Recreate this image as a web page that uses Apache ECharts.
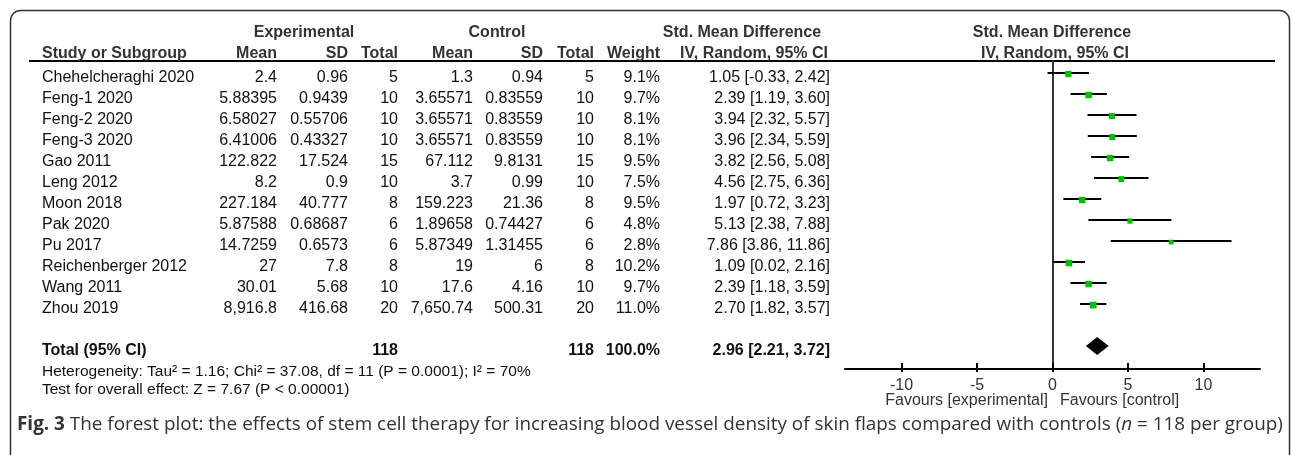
<!DOCTYPE html>
<html>
<head>
<meta charset="utf-8">
<script src="https://cdn.jsdelivr.net/npm/echarts@6/dist/echarts.min.js"></script>
<style>
html, body { margin: 0; padding: 0; background: #fff; }
#chart { width: 1292px; height: 455px; }
</style>
</head>
<body>
<div id="chart"></div>
<script>
// study rows
const studies = ['Chehelcheraghi 2020', 'Feng-1 2020', 'Feng-2 2020', 'Feng-3 2020', 'Gao 2011', 'Leng 2012',
  'Moon 2018', 'Pak 2020', 'Pu 2017', 'Reichenberger 2012', 'Wang 2011', 'Zhou 2019'];
const expMean = [2.4, 5.88395, 6.58027, 6.41006, 122.822, 8.2, 227.184, 5.87588, 14.7259, 27, 30.01, 8916.8];
const expSD = [0.96, 0.9439, 0.55706, 0.43327, 17.524, 0.9, 40.777, 0.68687, 0.6573, 7.8, 5.68, 416.68];
const expTotal = [5, 10, 10, 10, 15, 10, 8, 6, 6, 8, 10, 20];
const ctlMean = [1.3, 3.65571, 3.65571, 3.65571, 67.112, 3.7, 159.223, 1.89658, 5.87349, 19, 17.6, 7650.74];
const ctlSD = [0.94, 0.83559, 0.83559, 0.83559, 9.8131, 0.99, 21.36, 0.74427, 1.31455, 6, 4.16, 500.31];
const ctlTotal = [5, 10, 10, 10, 15, 10, 8, 6, 6, 8, 10, 20];
const weight = [9.1, 9.7, 8.1, 8.1, 9.5, 7.5, 9.5, 4.8, 2.8, 10.2, 9.7, 11.0];
const smd = [1.05, 2.39, 3.94, 3.96, 3.82, 4.56, 1.97, 5.13, 7.86, 1.09, 2.39, 2.70];
const ciLow = [-0.33, 1.19, 2.32, 2.34, 2.56, 2.75, 0.72, 2.38, 3.86, 0.02, 1.18, 1.82];
const ciHigh = [2.42, 3.60, 5.57, 5.59, 5.08, 6.36, 3.23, 7.88, 11.86, 2.16, 3.59, 3.57];

// pooled row
const totalRow = 13;
const totalN = [118, 118];
const totalWeight = 100.0;
const totalEffect = [2.96, 2.21, 3.72];

const xTicks = [-10, -5, 0, 5, 10];

const fmt = v => v.toLocaleString('en-US', { maximumFractionDigits: 6 });
const ciText = (m, l, h) => m.toFixed(2) + ' [' + l.toFixed(2) + ', ' + h.toFixed(2) + ']';

const FONT = '"Liberation Sans", Arial, sans-serif';
const CAP_FONT = '"Open Sans", sans-serif';
const bodyFont = '16px ' + FONT;
const boldFont = 'bold 16px ' + FONT;

// right edges of table columns
const cols = { study: 42, expMean: 277, expSD: 348, expTotal: 398, ctlMean: 473, ctlSD: 543, ctlTotal: 594, weight: 660, ci: 830 };

function cell(text, x, y, font, align) {
  return {
    type: 'text',
    style: { text: String(text), x: x, y: y, font: font, fill: '#111', textAlign: align || 'right', textVerticalAlign: 'middle' }
  };
}

function hText(text, x, y, align, font, fill) {
  return {
    type: 'text', silent: true,
    style: { text: text, x: x, y: y, font: font || boldFont, fill: fill || '#333', textAlign: align || 'center', textVerticalAlign: 'middle' }
  };
}

const chart = echarts.init(document.getElementById('chart'), null, { renderer: 'canvas' });

const option = {
  animation: false,
  backgroundColor: '#fff',
  grid: [
    { left: 845, top: 61, width: 415, height: 308 },
    { left: 0, top: 61, width: 1292, height: 308 }
  ],
  xAxis: [
    {
      gridIndex: 0, type: 'value', min: -13.75, max: 13.75,
      axisLine: { onZero: false, lineStyle: { color: '#000', width: 2 } },
      axisTick: { inside: true, length: 6, customValues: xTicks, lineStyle: { color: '#000', width: 2 } },
      axisLabel: { customValues: xTicks, fontSize: 16, color: '#333', margin: 9, fontFamily: FONT },
      splitLine: { show: false }
    },
    { gridIndex: 1, type: 'value', min: 0, max: 1292, show: false },
    {
      // short tick stubs below the axis line
      gridIndex: 0, type: 'value', min: -13.75, max: 13.75, position: 'bottom',
      axisLine: { show: false, onZero: false },
      axisTick: { inside: false, length: 3, customValues: xTicks, lineStyle: { color: '#000', width: 2 } },
      axisLabel: { show: false },
      splitLine: { show: false }
    }
  ],
  yAxis: [
    {
      gridIndex: 0, type: 'value', inverse: true, min: -12 / 21, max: 296 / 21,
      axisLine: { show: true, onZero: true, lineStyle: { color: '#333', width: 2 } },
      axisTick: { show: false }, axisLabel: { show: false }, splitLine: { show: false }
    },
    { gridIndex: 1, type: 'value', inverse: true, min: -17 / 21, max: 291 / 21, show: false }
  ],
  series: [
    {
      // confidence intervals
      type: 'custom', xAxisIndex: 0, yAxisIndex: 0,
      data: studies.map((s, i) => [i, ciLow[i], ciHigh[i]]),
      encode: { x: [1, 2], y: 0 },
      renderItem(params, api) {
        const a = api.coord([api.value(1), api.value(0)]);
        const b = api.coord([api.value(2), api.value(0)]);
        return { type: 'line', shape: { x1: a[0], y1: a[1], x2: b[0], y2: b[1] }, style: { stroke: '#000', lineWidth: 2 } };
      },
      z: 2
    },
    {
      type: 'scatter', xAxisIndex: 0, yAxisIndex: 0,
      symbol: 'rect',
      data: studies.map((s, i) => [smd[i], i + 0.05, weight[i]]),
      symbolSize: d => 4 + d[2] * 0.25,
      itemStyle: { color: '#00c000', opacity: 1 },
      z: 3
    },
    {
      // pooled diamond
      type: 'custom', xAxisIndex: 0, yAxisIndex: 0,
      data: [[totalRow, totalEffect[0], totalEffect[1], totalEffect[2]]],
      encode: { x: [1, 2, 3], y: 0 },
      renderItem(params, api) {
        const row = api.value(0);
        const c = api.coord([api.value(1), row]);
        const l = api.coord([api.value(2), row]);
        const r = api.coord([api.value(3), row]);
        return {
          type: 'polygon',
          shape: { points: [[l[0], c[1]], [c[0], c[1] - 9], [r[0], c[1]], [c[0], c[1] + 9]] },
          style: { fill: '#000' }
        };
      },
      z: 3
    },
    {
      // table rows
      type: 'custom', xAxisIndex: 1, yAxisIndex: 1,
      data: studies.map((s, i) => [0, i]),
      encode: { x: 0, y: 1 },
      renderItem(params, api) {
        const i = params.dataIndex;
        const y = api.coord([0, api.value(1)])[1];
        return {
          type: 'group',
          children: [
            cell(studies[i], cols.study, y, bodyFont, 'left'),
            cell(fmt(expMean[i]), cols.expMean, y, bodyFont),
            cell(fmt(expSD[i]), cols.expSD, y, bodyFont),
            cell(expTotal[i], cols.expTotal, y, bodyFont),
            cell(fmt(ctlMean[i]), cols.ctlMean, y, bodyFont),
            cell(fmt(ctlSD[i]), cols.ctlSD, y, bodyFont),
            cell(ctlTotal[i], cols.ctlTotal, y, bodyFont),
            cell(weight[i].toFixed(1) + '%', cols.weight, y, bodyFont),
            cell(ciText(smd[i], ciLow[i], ciHigh[i]), cols.ci, y, bodyFont)
          ]
        };
      }
    },
    {
      // total row
      type: 'custom', xAxisIndex: 1, yAxisIndex: 1,
      data: [[0, totalRow]],
      encode: { x: 0, y: 1 },
      renderItem(params, api) {
        const y = api.coord([0, api.value(1)])[1];
        return {
          type: 'group',
          children: [
            cell('Total (95% CI)', cols.study, y, boldFont, 'left'),
            cell(totalN[0], cols.expTotal, y, boldFont),
            cell(totalN[1], cols.ctlTotal, y, boldFont),
            cell(totalWeight.toFixed(1) + '%', cols.weight, y, boldFont),
            cell(ciText(totalEffect[0], totalEffect[1], totalEffect[2]), cols.ci, y, boldFont)
          ]
        };
      }
    }
  ],
  graphic: [
    {
      type: 'rect', silent: true,
      shape: { x: 10.5, y: 10.5, width: 1279, height: 480, r: 10 },
      style: { fill: 'none', stroke: '#333', lineWidth: 1.5 }
    },
    {
      type: 'line', silent: true,
      shape: { x1: 29, y1: 61, x2: 1275, y2: 61 },
      style: { stroke: '#000', lineWidth: 2 }
    },
    hText('Experimental', 304, 33),
    hText('Control', 497, 33),
    hText('Std. Mean Difference', 742, 33),
    hText('Std. Mean Difference', 1052, 33),
    hText('Study or Subgroup', 42, 54, 'left'),
    hText('Mean', 277, 54, 'right'),
    hText('SD', 348, 54, 'right'),
    hText('Total', 398, 54, 'right'),
    hText('Mean', 473, 54, 'right'),
    hText('SD', 543, 54, 'right'),
    hText('Total', 594, 54, 'right'),
    hText('Weight', 660, 54, 'right'),
    hText('IV, Random, 95% CI', 828, 54, 'right'),
    hText('IV, Random, 95% CI', 1055, 54),
    hText('Heterogeneity: Tau² = 1.16; Chi² = 37.08, df = 11 (P = 0.0001); I² = 70%', 42, 372, 'left', '15.5px ' + FONT, '#111'),
    hText('Test for overall effect: Z = 7.67 (P < 0.00001)', 42, 390, 'left', '15.5px ' + FONT, '#111'),
    hText('Favours [experimental]', 1048, 401, 'right', '16px ' + FONT, '#333'),
    hText('Favours [control]', 1060, 401, 'left', '16px ' + FONT, '#333'),
    {
      type: 'text', silent: true,
      style: {
        x: 17, y: 425, textVerticalAlign: 'middle',
        text: '{b|Fig. 3} The forest plot: the effects of stem cell therapy for increasing blood vessel density of skin flaps compared with controls ({i|n} = 118 per group)',
        font: '18.9px ' + CAP_FONT, fill: '#333',
        rich: {
          b: { fontWeight: 'bold', fontSize: 18.9, fontFamily: CAP_FONT, fill: '#333' },
          i: { fontStyle: 'italic', fontSize: 18.9, fontFamily: CAP_FONT, fill: '#333' }
        }
      }
    }
  ]
};

chart.setOption(option);
</script>
</body>
</html>
